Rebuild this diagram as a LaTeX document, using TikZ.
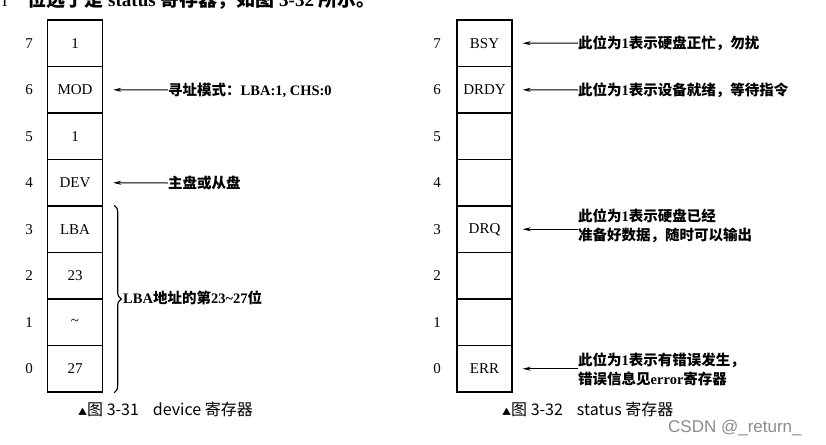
\documentclass[tikz,border=0pt]{standalone}
\usepackage{fontspec}
\setmainfont{Liberation Serif}
\newfontfamily\cjk{Noto Sans CJK SC}
\newfontfamily\wmfont{Liberation Sans}
\usetikzlibrary{arrows.meta,decorations.pathreplacing,calc}
\newcommand\zh[1]{{\cjk\bfseries #1}}
\begin{document}
\begin{tikzpicture}[x=1pt,y=-1pt,
  cell/.style={draw,line width=1.4pt,minimum width=55pt,minimum height=46.5pt,inner sep=0pt,
    font=\fontsize{15}{17}\selectfont},
  bitno/.style={font=\fontsize{15}{17}\selectfont,inner sep=0pt},
  lbl/.style={anchor=west,inner sep=0pt,font=\fontsize{14.5}{19}\selectfont\bfseries,align=left},
  arr/.style={line width=1pt,-{Stealth[length=8pt,width=4pt]},shorten >=10pt},
  captxt/.style={anchor=west,inner sep=0pt,font=\fontsize{16}{18}\selectfont\cjk},
]
\useasboundingbox (0,0) rectangle (826,444);
\fill[white] (0,0) rectangle (826,444);
% clipped text fragment at top
\begin{scope}
\clip (0,0) rectangle (826,13);
\node[anchor=base west,inner sep=0pt,font=\fontsize{19}{20}\selectfont] (frag) at (2,7)
  {l\hspace{20pt}\zh{位选于是}\textbf{ status }\zh{寄存器，如图}\textbf{ 3-32 }\zh{所示。}};
\end{scope}
% left register
\foreach \b/\t in {7/1,6/MOD,5/1,4/DEV,3/LBA,2/23,1/\textasciitilde,0/27}{
  \node[cell] (L\b) at (75,{20+46.5*(7-\b)+23.25}) {\t};
  \node[bitno] (LN\b) at (29,{20+46.5*(7-\b)+23.25}) {\b};
}
% right register
\foreach \b/\t in {7/BSY,6/DRDY,5/,4/,3/DRQ,2/,1/,0/ERR}{
  \node[cell] (R\b) at (484.5,{20+46.5*(7-\b)+23.25}) {\t};
  \node[bitno] (RN\b) at (437,{20+46.5*(7-\b)+23.25}) {\b};
}
% left annotations
\node[lbl] (tMOD) at (168,90) {\zh{寻址模式：}LBA:1, CHS:0};
\node[lbl] (tDEV) at (168,183) {\zh{主盘或从盘}};
\draw[arr] (tMOD.west) -- (L6.east);
\draw[arr] (tDEV.west) -- (L4.east);
\coordinate (bt) at ($(L3.north east)+(11,0)$);
\coordinate (bb) at ($(L0.south east)+(11,0)$);
\draw[line width=1.2pt,decorate,decoration={brace,amplitude=7pt}] (bt) -- (bb);
\node[lbl] (tLBA) at (123,298) {LBA\zh{地址的第}23\textasciitilde27\zh{位}};
% right annotations
\node[lbl] (tBSY) at (578,43) {\zh{此位为}1\zh{表示硬盘正忙，勿扰}};
\node[lbl] (tDRDY) at (578,90) {\zh{此位为}1\zh{表示设备就绪，等待指令}};
\node[lbl] (tDRQ) at (578,226) {\zh{此位为}1\zh{表示硬盘已经}\\\zh{准备好数据，随时可以输出}};
\node[lbl] (tERR) at (578,369) {\zh{此位为}1\zh{表示有错误发生，}\\\zh{错误信息见}error\zh{寄存器}};
\draw[arr] (tBSY.west) -- (R7.east);
\draw[arr] (tDRDY.west) -- (R6.east);
\draw[arr] (tDRQ.west |- R3.east) -- (R3.east);
\draw[arr] (tERR.west |- R0.east) -- (R0.east);
% captions
\node[captxt] (c1) at (78,409) {{\fontsize{9}{10}\selectfont▲}图 3-31\hspace{14pt}device 寄存器};
\node[captxt] (c2) at (502,409) {{\fontsize{9}{10}\selectfont▲}图 3-32\hspace{14pt}status 寄存器};
\node[anchor=west,inner sep=0pt,text=black!45,font=\fontsize{17}{20}\selectfont\wmfont] (wm) at (668,428) {CSDN @\_return\_};
\end{tikzpicture}
\end{document}
